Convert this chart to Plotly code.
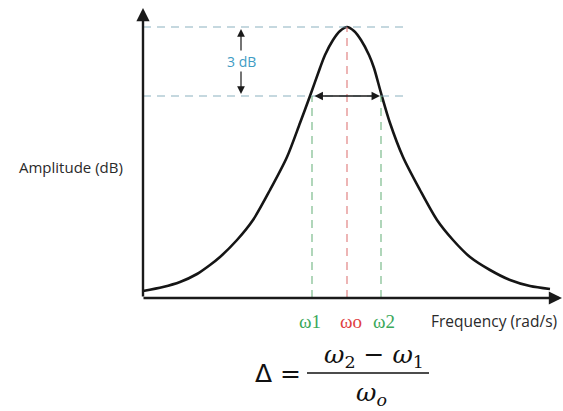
import plotly.graph_objects as go

# Resonance curve (arbitrary units: x = frequency, y = amplitude)
freq = [0, 20, 37, 54, 67, 77, 94, 110, 127, 144, 157, 167, 177, 182, 190, 197, 204,
        211, 218, 226, 231, 238, 247, 260, 277, 294, 310, 327, 347, 367, 387, 407]
amp = [7, 11, 16, 24, 33, 41, 58, 78, 108, 141, 175, 202, 230, 243, 258, 267, 271,
       267, 258, 243, 230, 205, 175, 141, 108, 78, 58, 41, 28, 18, 12, 9]

w1, w0, w2 = 169, 204, 238          # marked frequencies
peak_amp, half_amp = 271, 202      # peak level and -3 dB level
dash_end = 262                      # extent of horizontal guide lines
y_top, x_end = 290, 419             # axis arrow tips

axis_labels = ["Amplitude (dB)", "Frequency (rad/s)"]
freq_labels = ["ω1", "ωo", "ω2"]
db_label = "3 dB"

fig = go.Figure()
fig.add_trace(go.Scatter(x=freq, y=amp, mode="lines",
                         line=dict(color="#151515", width=2.6, shape="spline", smoothing=0.8),
                         hoverinfo="skip"))

shapes = []
guide = "rgba(120,165,180,0.85)"
for yv in (peak_amp, half_amp):
    shapes.append(dict(type="line", x0=0, x1=dash_end, y0=yv, y1=yv,
                       line=dict(color=guide, width=1.2, dash="8px,6px")))
green = "rgba(100,175,120,0.85)"
for xv in (w1, w2):
    shapes.append(dict(type="line", x0=xv, x1=xv, y0=0, y1=half_amp,
                       line=dict(color=green, width=1.2, dash="8px,6px")))
shapes.append(dict(type="line", x0=w0, x1=w0, y0=0, y1=peak_amp,
                   line=dict(color="rgba(220,110,110,0.85)", width=1.2, dash="8px,6px")))
# fraction bar
shapes.append(dict(type="line", x0=164, x1=286, y0=-75, y1=-75,
                   line=dict(color="#111", width=1.3)))

ann = []
# axes with arrows
ann.append(dict(x=0, y=y_top, ax=0, ay=0, xref="x", yref="y", axref="x", ayref="y",
                showarrow=True, arrowhead=2, arrowsize=1.1, arrowwidth=2.4,
                arrowcolor="#1a1a1a", text="", standoff=0))
ann.append(dict(x=x_end, y=0, ax=-1, ay=0, xref="x", yref="y", axref="x", ayref="y",
                showarrow=True, arrowhead=2, arrowsize=1.1, arrowwidth=2.4,
                arrowcolor="#1a1a1a", text="", standoff=0))
# bandwidth double arrow
ann.append(dict(x=w2 - 1, y=half_amp, ax=w1 + 1, ay=half_amp, xref="x", yref="y",
                axref="x", ayref="y", showarrow=True, arrowhead=2, arrowsize=1.3,
                arrowwidth=1.3, arrowside="end+start", arrowcolor="#1a1a1a", text=""))
# 3 dB arrows
ann.append(dict(x=98, y=peak_amp - 2, ax=98, ay=246, xref="x", yref="y", axref="x", ayref="y",
                showarrow=True, arrowhead=2, arrowsize=1.3, arrowwidth=1.2,
                arrowcolor="#1a1a1a", text=""))
ann.append(dict(x=98, y=half_amp + 2, ax=98, ay=228, xref="x", yref="y", axref="x", ayref="y",
                showarrow=True, arrowhead=2, arrowsize=1.3, arrowwidth=1.2,
                arrowcolor="#1a1a1a", text=""))
ann.append(dict(x=98, y=237, text=db_label, showarrow=False,
                font=dict(family="Open Sans", size=14, color="#3f9cc4")))

# axis titles
ann.append(dict(x=-72, y=131, text=axis_labels[0], showarrow=False,
                font=dict(family="Open Sans", size=15, color="#2a2a2a")))
ann.append(dict(x=351, y=-23, text=axis_labels[1], showarrow=False,
                font=dict(family="Open Sans", size=15.5, color="#2a2a2a")))

# frequency labels
lab_x = [167, 208, 241]
lab_c = ["#3aa85a", "#e0403f", "#3aa85a"]
for t, xv, c in zip(freq_labels, lab_x, lab_c):
    ann.append(dict(x=xv, y=-23, text=t, showarrow=False,
                    font=dict(family="Liberation Serif", size=19, color=c)))

# formula
ann.append(dict(x=135, y=-75, text="Δ =", showarrow=False,
                font=dict(family="DejaVu Sans", size=25, color="#111")))
ann.append(dict(x=231, y=-58, text="<i>ω</i><sub>2</sub> − <i>ω</i><sub>1</sub>", showarrow=False,
                font=dict(family="DejaVu Serif", size=25, color="#111")))
ann.append(dict(x=228, y=-96, text="<i>ω</i><sub><i>o</i></sub>", showarrow=False,
                font=dict(family="DejaVu Serif", size=25, color="#111")))

fig.update_layout(
    width=563, height=411, margin=dict(l=0, r=0, t=0, b=0),
    paper_bgcolor="white", plot_bgcolor="white", showlegend=False,
    xaxis=dict(range=[-143, 420], visible=False, fixedrange=True),
    yaxis=dict(range=[-113, 298], visible=False, fixedrange=True),
    shapes=shapes, annotations=ann,
)
fig.write_html("out.html", config={"displayModeBar": False},
               post_script="document.body.style.margin='0';")
